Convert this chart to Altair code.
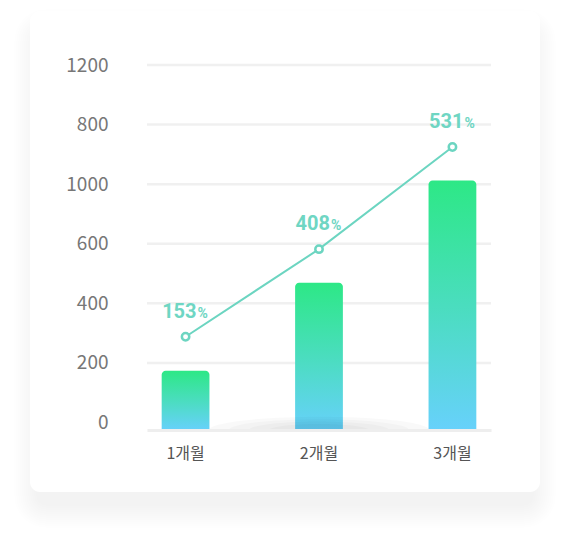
import altair as alt
import pandas as pd

months = ["1개월", "2개월", "3개월"]
bar_values = [174, 469, 812]
line_values = [288, 582, 925]
pct_labels = ["153", "408", "531"]
y_ticks = [0, 200, 400, 600, 800, 1000, 1200]
y_tick_labels = ["0", "200", "400", "600", "1000", "800", "1200"]
grid_values = [200, 400, 600, 800, 1000, 1200]
y_min = -25

df = pd.DataFrame({"month": months, "bar": bar_values, "line": line_values, "pct": pct_labels})
grid_df = pd.DataFrame({"g": grid_values})
one = pd.DataFrame({"k": [0]})

# label expression built from the tick label list
expr = "datum.label"
for v, lab in zip(y_ticks, y_tick_labels):
    expr = f"datum.value == {v} ? '{lab}' : ({expr})"

W, H = 344, 365
xscale = alt.Scale(domain=months, paddingInner=0.642, paddingOuter=0.11)
yscale = alt.Scale(domain=[y_min, 1200], nice=False, zero=False)

yaxis = alt.Axis(title=None, values=y_ticks, labelExpr=expr, grid=False, domain=False,
                 ticks=False, labelPadding=39, labelFontSize=19, labelColor="#777777",
                 labelFont="Noto Sans CJK KR", labelBaseline="middle", zindex=1)
xaxis = alt.Axis(title=None, labelAngle=0, ticks=False, domain=True, domainColor="#eeeeee",
                 domainWidth=3, labelPadding=15, labelFontSize=16, labelColor="#555555",
                 labelFont="Noto Sans CJK KR", zindex=1)

# card background with soft shadow (decoration)
card_l, card_r, card_t, card_b = -117, 393, -54, 427
layers = []
for k in range(12):
    e = k * 2.0
    layers.append(
        alt.Chart(one).mark_rect(color="black", opacity=0.0045, cornerRadius=10 + e).encode(
            x=alt.value(card_l - e + 6), x2=alt.value(card_r + e - 6),
            y=alt.value(card_t - e + 20), y2=alt.value(card_b + e + 14),
        )
    )
layers.append(
    alt.Chart(one).mark_rect(color="white", cornerRadius=10).encode(
        x=alt.value(card_l), x2=alt.value(card_r),
        y=alt.value(card_t), y2=alt.value(card_b),
    )
)

grid = alt.Chart(grid_df).mark_rule(color="#f0f0f0", strokeWidth=2.5).encode(
    y=alt.Y("g:Q", scale=yscale, axis=yaxis)
)
layers.append(grid)

gradient = alt.Gradient(
    gradient="linear", x1=0, y1=0, x2=0, y2=1,
    stops=[alt.GradientStop(color="#2de886", offset=0),
           alt.GradientStop(color="#4ddcc4", offset=0.55),
           alt.GradientStop(color="#67d1fb", offset=1)],
)

base = alt.Chart(df)
bars = base.mark_bar(color=gradient, cornerRadiusTopLeft=4, cornerRadiusTopRight=4).encode(
    x=alt.X("month:N", scale=xscale, sort=months, axis=xaxis),
    y=alt.Y("bar:Q", scale=yscale, axis=yaxis),
    y2=alt.datum(y_min),
)
layers.append(bars)

# soft elliptical shadow at the base
for w in [220, 180, 140, 100]:
    layers.append(
        alt.Chart(one).mark_point(
            shape="M -1 0 A 1 0.12 0 0 1 1 0 Z", filled=True, color="black", opacity=0.025,
            size=w * w, strokeWidth=0,
        ).encode(x=alt.datum("2개월"), y=alt.datum(y_min))
    )

line = base.mark_line(color="#6cd5c1", strokeWidth=2).encode(
    x=alt.X("month:N", scale=xscale, sort=months), y=alt.Y("line:Q", scale=yscale)
)
points = base.mark_point(filled=True, fill="white", stroke="#6cd5c1", strokeWidth=2.5, size=55, opacity=1).encode(
    x=alt.X("month:N", scale=xscale, sort=months), y=alt.Y("line:Q", scale=yscale)
)
nums = base.mark_text(align="right", baseline="alphabetic", dx=11, dy=-19, font="Roboto",
                      fontSize=20, fontWeight="bold", color="#6fd6c3").encode(
    x=alt.X("month:N", scale=xscale, sort=months), y=alt.Y("line:Q", scale=yscale), text="pct:N"
)
pcts = base.mark_text(align="left", baseline="alphabetic", dx=12, dy=-19, font="Roboto",
                      fontSize=14, fontWeight="bold", color="#6fd6c3").encode(
    x=alt.X("month:N", scale=xscale, sort=months), y=alt.Y("line:Q", scale=yscale), text=alt.value("%")
)
layers += [line, points, nums, pcts]

chart = alt.layer(*layers).properties(
    width=W, height=H, background="white",
    autosize=alt.AutoSizeParams(type="none"),
    padding={"left": 139, "top": 57, "right": 71, "bottom": 104},
).configure_view(stroke=None)

chart.save("out.html", embed_options={"renderer": "svg", "actions": False})
